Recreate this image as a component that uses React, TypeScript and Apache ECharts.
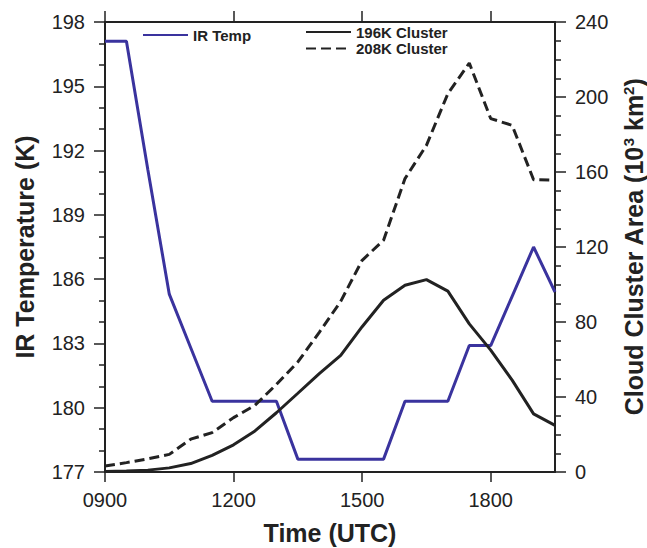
import React, { useEffect, useRef } from "react";
import * as echarts from "echarts";

// Time in hours UTC (0900 = 9)
const times = [9, 9.5, 10, 10.5, 11, 11.5, 12, 12.5, 13, 13.5, 14, 14.5, 15, 15.5, 16, 16.5, 17, 17.5, 18, 18.5, 19, 19.5];
// IR temperature (K), left axis
const irTemp = [197.1, 197.1, 191.1, 185.3, 182.8, 180.3, 180.3, 180.3, 180.3, 177.6, 177.6, 177.6, 177.6, 177.6, 180.3, 180.3, 180.3, 182.9, 182.9, 185.2, 187.5, 185.4];
// 196K cluster area (10^3 km^2), right axis
const cluster196 = [0.3, 0.5, 1, 2.2, 4.5, 8.9, 14.5, 21.9, 31.6, 42, 52.5, 62.2, 77.5, 91.6, 99.6, 102.6, 96.5, 79, 65, 49, 31, 24.9];
// 208K cluster area (10^3 km^2), right axis
const cluster208 = [3.2, 5, 7, 9.4, 17.5, 21, 29, 35.6, 46.7, 58.7, 74.5, 91, 112.9, 123.6, 156.5, 174.2, 201.8, 218.1, 188.5, 184.9, 155.9, 155.6];
const xTicks = [9, 12, 15, 18];

const FONT = "'Liberation Sans', Arial, Helvetica, sans-serif";
const INK = "#222222";
const BLUE = "#3a339e";

export default function App() {
  const ref = useRef<HTMLDivElement>(null);
  useEffect(() => {
    if (!ref.current) return;
    const chart = echarts.init(ref.current, undefined, { renderer: "svg" });
    const pair = (vals: number[]) => times.map((t, i) => [t, vals[i]]);
    const axisLine = { show: true, lineStyle: { color: INK, width: 2 } };
    const fmtTime = (v: number) => {
      const h = Math.round(v);
      return (h < 10 ? "0" : "") + h + "00";
    };
    const legendText = { fontFamily: FONT, fontSize: 15, fontWeight: "bold", color: INK, lineHeight: 16 };
    chart.setOption({
      animation: false,
      backgroundColor: "#ffffff",
      grid: { left: 105, right: 92, top: 22, bottom: 76, containLabel: false, outerBoundsMode: "none" },
      legend: [
        {
          data: ["IR Temp"],
          left: 137,
          top: 22,
          itemWidth: 45,
          itemHeight: 14,
          itemGap: 0,
          itemStyle: { opacity: 0 },
          textStyle: legendText,
        },
        {
          data: ["196K Cluster", "208K Cluster"],
          orient: "vertical",
          left: 300,
          top: 19,
          itemWidth: 45,
          itemHeight: 14,
          itemGap: 0.6,
          itemStyle: { opacity: 0 },
          textStyle: legendText,
        },
      ],
      xAxis: [
        {
          type: "value",
          min: 9,
          max: 19.5,
          interval: 3,
          position: "bottom",
          axisLine,
          splitLine: { show: false },
          axisTick: { show: true, length: 10, customValues: xTicks, lineStyle: { color: INK, width: 1.5 } },
          axisLabel: {
            customValues: xTicks,
            formatter: fmtTime,
            margin: 18,
            fontFamily: FONT,
            fontSize: 20,
            color: INK,
          },
          name: "Time (UTC)",
          nameLocation: "middle",
          nameGap: 48,
          nameTextStyle: { fontFamily: FONT, fontSize: 25, fontWeight: "bold", color: INK },
        },
        {
          type: "value",
          min: 9,
          max: 19.5,
          interval: 3,
          position: "top",
          axisLine,
          splitLine: { show: false },
          axisTick: { show: true, length: 11, customValues: xTicks, lineStyle: { color: INK, width: 1.5 } },
          axisLabel: { show: false },
        },
      ],
      yAxis: [
        {
          type: "value",
          min: 177,
          max: 198,
          interval: 3,
          position: "left",
          axisLine,
          splitLine: { show: false },
          axisTick: { show: true, length: 11, lineStyle: { color: INK, width: 1.5 } },
          minorTick: { show: true, splitNumber: 3, length: 6, lineStyle: { color: INK, width: 1.5 } },
          axisLabel: { margin: 20, fontFamily: FONT, fontSize: 20, color: INK },
          name: "IR Temperature (K)",
          nameLocation: "middle",
          nameRotate: 90,
          nameGap: 68,
          nameTextStyle: { fontFamily: FONT, fontSize: 25, fontWeight: "bold", color: INK },
        },
        {
          type: "value",
          min: 0,
          max: 240,
          interval: 40,
          position: "right",
          axisLine,
          splitLine: { show: false },
          axisTick: { show: true, length: 11, lineStyle: { color: INK, width: 1.5 } },
          minorTick: { show: true, splitNumber: 4, length: 6, lineStyle: { color: INK, width: 1.5 } },
          axisLabel: { margin: 20, fontFamily: FONT, fontSize: 20, color: INK },
          name: "Cloud Cluster Area (10{sup|3} km{sup|2})",
          nameLocation: "middle",
          nameRotate: 90,
          nameGap: 66,
          nameTextStyle: {
            fontFamily: FONT,
            fontSize: 25,
            fontWeight: "bold",
            color: INK,
            lineHeight: 25,
            rich: {
              sup: { fontFamily: FONT, fontSize: 15, fontWeight: "bold", color: INK, verticalAlign: "top", lineHeight: 25 },
            },
          },
        },
      ],
      series: [
        {
          name: "IR Temp",
          type: "line",
          xAxisIndex: 0,
          yAxisIndex: 0,
          data: pair(irTemp),
          symbol: "none",
          showSymbol: false,
          lineStyle: { color: BLUE, width: 3 },
          itemStyle: { color: BLUE },
        },
        {
          name: "196K Cluster",
          type: "line",
          xAxisIndex: 0,
          yAxisIndex: 1,
          data: pair(cluster196),
          symbol: "none",
          showSymbol: false,
          lineStyle: { color: INK, width: 3 },
          itemStyle: { color: INK },
        },
        {
          name: "208K Cluster",
          type: "line",
          xAxisIndex: 0,
          yAxisIndex: 1,
          data: pair(cluster208),
          symbol: "none",
          showSymbol: false,
          lineStyle: { color: INK, width: 3, type: [10, 5] },
          itemStyle: { color: INK },
        },
      ],
    });
    return () => chart.dispose();
  }, []);
  return (
    <div
      ref={ref}
      style={{ position: "absolute", left: 0, top: 0, width: 647, height: 548, background: "#fff" }}
    />
  );
}
